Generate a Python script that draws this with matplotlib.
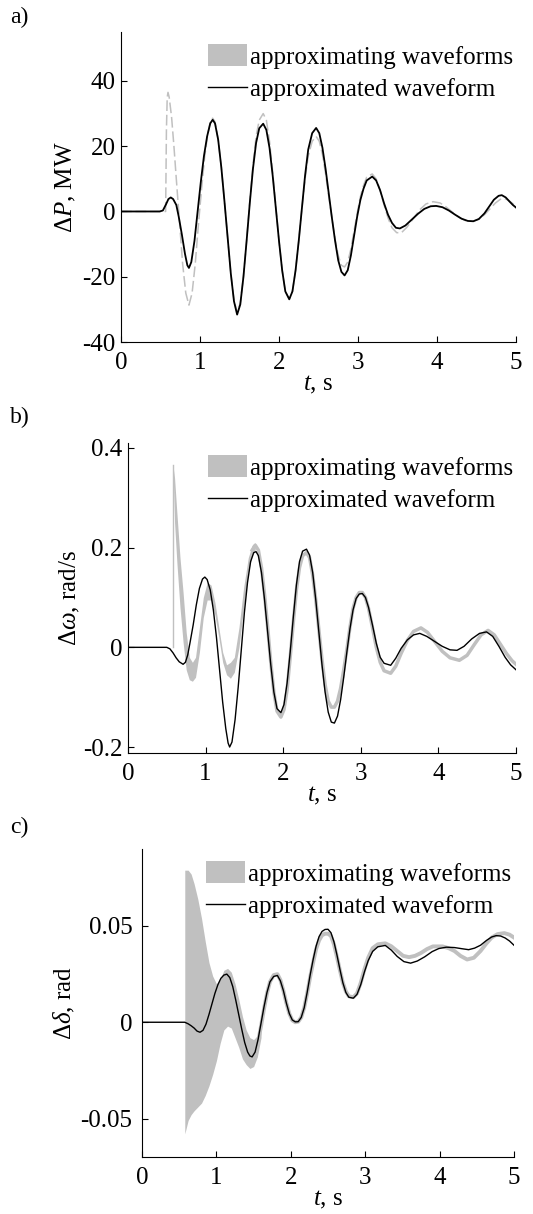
import matplotlib
matplotlib.use("Agg")
import matplotlib.pyplot as plt
from matplotlib.patches import Patch
from matplotlib.lines import Line2D

# ---- panel a) dP, MW  (values read off the picture)
a_t = [0, 0.49, 0.53, 0.57, 0.60, 0.63, 0.66, 0.70, 0.73, 0.77, 0.81, 0.84, 0.86, 0.89, 0.93, 0.97,
       1.01, 1.05, 1.09, 1.13, 1.16, 1.19, 1.23, 1.27, 1.31, 1.35, 1.39, 1.43, 1.47, 1.51, 1.55, 1.59,
       1.63, 1.67, 1.71, 1.75, 1.80, 1.84, 1.88, 1.92, 1.96, 2.00, 2.04, 2.08, 2.13, 2.17, 2.21, 2.25,
       2.29, 2.33, 2.37, 2.42, 2.47, 2.51, 2.55, 2.59, 2.63, 2.67, 2.71, 2.75, 2.79, 2.83, 2.87, 2.91,
       2.95, 2.99, 3.03, 3.07, 3.11, 3.18, 3.23, 3.28, 3.33, 3.38, 3.43, 3.48, 3.53, 3.60, 3.68, 3.76,
       3.84, 3.92, 3.99, 4.07, 4.15, 4.23, 4.31, 4.39, 4.46, 4.53, 4.60, 4.66, 4.72, 4.78, 4.82, 4.87,
       4.92, 4.96, 5.0]
a_black = [0, 0, 0.3, 2.2, 3.8, 4.3, 3.8, 2.0, -1.5, -7, -13, -16.5, -17.3, -15.5, -9, 0,
           9, 17, 23, 27, 28.1, 27, 22, 13.5, 3, -8, -19, -27.5, -31.6, -28.5, -20, -9,
           2.5, 13, 21, 25.5, 26.9, 25, 19.5, 11, 1, -9, -18, -24.5, -26.9, -24.5, -18, -9,
           1, 11, 19, 24, 25.6, 24, 19.5, 13, 5.5, -2, -9, -15, -18.5, -19.6, -18, -13.5,
           -7.5, -1.5, 3.5, 7, 9.5, 10.7, 9.5, 6.5, 2.5, -1, -3.5, -5, -5.2, -4.3, -2.5, -0.7,
           0.8, 1.6, 1.7, 1.3, 0.3, -1.0, -2.2, -2.9, -3.0, -2.3, -0.6, 1.5, 3.6, 4.8, 5.0, 4.3,
           3.0, 2.0, 1.2]
a_gt = [0, 0.565, 0.575, 0.585, 0.595, 0.61, 0.64, 0.67, 0.70, 0.74, 0.78, 0.82, 0.86, 0.90, 0.94, 0.98,
        1.02, 1.06, 1.10, 1.13, 1.16, 1.19, 1.23, 1.27, 1.31, 1.35, 1.39, 1.43, 1.47, 1.51, 1.55, 1.59,
        1.63, 1.67, 1.71, 1.75, 1.80, 1.84, 1.88, 1.92, 1.96, 2.00, 2.04, 2.08, 2.13, 2.17, 2.21, 2.25,
        2.29, 2.33, 2.37, 2.42, 2.47, 2.51, 2.55, 2.59, 2.63, 2.67, 2.71, 2.75, 2.79, 2.83, 2.87, 2.91,
        2.95, 2.99, 3.03, 3.07, 3.11, 3.18, 3.23, 3.28, 3.33, 3.38, 3.43, 3.49, 3.55, 3.62, 3.70, 3.78,
        3.86, 3.95, 4.04, 4.12, 4.20, 4.28, 4.36, 4.45, 4.53, 4.60, 4.67, 4.74, 4.80, 4.85, 4.90, 4.95,
        5.0]
a_gray = [0, 0, 25, 35, 36.5, 35, 29, 20, 10, -3, -16, -25, -28.7, -25, -16, -4,
          7, 17, 24, 27.5, 28.6, 27.5, 22, 13.5, 3, -8, -19, -27, -31, -28, -20, -9,
          3, 14, 23, 28, 30, 28, 21.5, 12, 1.5, -9, -18, -24.5, -27, -24.5, -18, -9,
          1, 10, 17, 21.5, 23, 21.5, 17.5, 11.5, 4.5, -2, -8.5, -13.5, -16.5, -17, -15.5, -11.5,
          -6, -0.5, 4.5, 8, 10.5, 11.5, 10, 6.5, 2, -2, -5, -6.5, -6.5, -4.8, -2.2, 0.5,
          2.3, 3.0, 2.6, 1.3, -0.3, -1.8, -2.8, -3.0, -2.4, -1.0, 0.8, 2.6, 3.7, 4.0, 3.5, 2.6,
          1.5]

# ---- panel b) d omega, rad/s
b_t = [0, 0.50, 0.54, 0.58, 0.62, 0.66, 0.71, 0.74, 0.77, 0.80, 0.84, 0.88, 0.92, 0.96, 0.99, 1.02,
       1.06, 1.10, 1.14, 1.18, 1.22, 1.26, 1.29, 1.31, 1.34, 1.38, 1.42, 1.46, 1.50, 1.54, 1.58, 1.62,
       1.65, 1.68, 1.72, 1.76, 1.80, 1.84, 1.88, 1.92, 1.97, 2.01, 2.05, 2.09, 2.13, 2.17, 2.21, 2.25,
       2.30, 2.34, 2.38, 2.42, 2.46, 2.50, 2.54, 2.58, 2.62, 2.66, 2.70, 2.74, 2.78, 2.82, 2.86, 2.90,
       2.94, 2.98, 3.02, 3.06, 3.10, 3.15, 3.20, 3.25, 3.30, 3.385, 3.45, 3.52, 3.60, 3.68, 3.76, 3.85,
       3.95, 4.05, 4.15, 4.24, 4.33, 4.43, 4.53, 4.62, 4.70, 4.78, 4.86, 4.93, 5.0]
b_black = [0, 0, -0.003, -0.011, -0.021, -0.029, -0.034, -0.03, -0.015, 0.01, 0.045, 0.085, 0.118, 0.137, 0.141, 0.136,
           0.115, 0.075, 0.02, -0.045, -0.11, -0.163, -0.192, -0.2, -0.19, -0.145, -0.08, -0.005, 0.07, 0.13, 0.172, 0.19,
           0.192, 0.184, 0.15, 0.095, 0.03, -0.035, -0.09, -0.123, -0.131, -0.115, -0.072, -0.01, 0.06, 0.125, 0.172, 0.193,
           0.197, 0.185, 0.15, 0.095, 0.03, -0.035, -0.09, -0.13, -0.15, -0.152, -0.138, -0.105, -0.06, -0.01, 0.037, 0.075,
           0.098, 0.107, 0.108, 0.1, 0.08, 0.045, 0.008, -0.02, -0.032, -0.036, -0.022, -0.002, 0.015, 0.025, 0.028, 0.022,
           0.012, 0.002, -0.005, -0.006, 0.002, 0.017, 0.028, 0.031, 0.022, 0.002, -0.02, -0.035, -0.045]
b_gt = [1.60, 1.64, 1.68, 1.72, 1.76, 1.80, 1.84, 1.88, 1.92, 1.97, 2.01, 2.05, 2.09, 2.13, 2.17, 2.21,
        2.25, 2.30, 2.34, 2.38, 2.42, 2.46, 2.50, 2.54, 2.58, 2.62, 2.66, 2.70, 2.74, 2.78, 2.82, 2.86,
        2.90, 2.94, 2.98, 3.02, 3.06, 3.10, 3.15, 3.20, 3.25, 3.30, 3.385, 3.45, 3.52, 3.60, 3.68, 3.775,
        3.86, 3.95, 4.05, 4.15, 4.27, 4.37, 4.46, 4.55, 4.64, 4.72, 4.80, 4.88, 4.95, 5.0]
b_gray = [0.195, 0.205, 0.195, 0.16, 0.105, 0.04, -0.03, -0.09, -0.128, -0.14, -0.125, -0.085, -0.02, 0.05, 0.115, 0.16,
          0.184, 0.19, 0.18, 0.145, 0.095, 0.035, -0.025, -0.075, -0.108, -0.12, -0.12, -0.108, -0.082, -0.045, -0.005, 0.04,
          0.078, 0.1, 0.11, 0.11, 0.1, 0.078, 0.04, 0.0, -0.03, -0.047, -0.052, -0.038, -0.012, 0.014, 0.032, 0.039,
          0.03, 0.012, -0.008, -0.021, -0.026, -0.016, 0.005, 0.025, 0.034, 0.025, 0.006, -0.013, -0.027, -0.034]
b_bt = [0.58, 0.60, 0.63, 0.67, 0.71, 0.75, 0.79, 0.83, 0.87, 0.92, 0.97, 1.02, 1.07, 1.12, 1.17, 1.22,
        1.27, 1.32, 1.37, 1.43, 1.49, 1.55, 1.60, 1.64]
b_upper = [0.365, 0.34, 0.27, 0.18, 0.11, 0.03, -0.02, -0.03, -0.02, 0.04, 0.10, 0.13, 0.125, 0.09, 0.04, -0.01,
           -0.035, -0.03, -0.02, 0.04, 0.12, 0.18, 0.205, 0.21]
b_lower = [0.36, 0.25, 0.17, 0.08, 0.01, -0.045, -0.065, -0.068, -0.06, -0.01, 0.06, 0.095, 0.095, 0.065, 0.02, -0.03,
           -0.055, -0.062, -0.05, 0.0, 0.08, 0.15, 0.185, 0.195]

# ---- panel c) d delta, rad
c_t = [0, 0.575, 0.62, 0.66, 0.70, 0.74, 0.78, 0.82, 0.86, 0.90, 0.94, 0.98, 1.02, 1.06, 1.10, 1.14,
       1.18, 1.22, 1.26, 1.30, 1.34, 1.38, 1.42, 1.45, 1.48, 1.52, 1.56, 1.60, 1.64, 1.68, 1.72, 1.77,
       1.82, 1.86, 1.90, 1.94, 1.98, 2.02, 2.06, 2.10, 2.14, 2.18, 2.22, 2.26, 2.30, 2.34, 2.38, 2.42,
       2.46, 2.50, 2.54, 2.58, 2.62, 2.66, 2.70, 2.74, 2.78, 2.84, 2.89, 2.94, 2.99, 3.04, 3.10, 3.17,
       3.27, 3.35, 3.43, 3.52, 3.61, 3.70, 3.80, 3.90, 3.99, 4.09, 4.20, 4.30, 4.39, 4.47, 4.55, 4.63,
       4.70, 4.76, 4.82, 4.88, 4.94, 5.0]
c_black = [0, 0, -0.0008, -0.0018, -0.003, -0.0046, -0.0052, -0.0042, -0.001, 0.004, 0.0095, 0.015, 0.0195, 0.0228, 0.0245, 0.025,
           0.0232, 0.0185, 0.0115, 0.004, -0.0035, -0.0105, -0.0155, -0.0175, -0.018, -0.0155, -0.009, -0.0005, 0.008, 0.0155, 0.021, 0.0238,
           0.0243, 0.0215, 0.0165, 0.01, 0.0045, 0.0012, 0.0002, 0.0003, 0.0025, 0.0075, 0.0155, 0.0245, 0.0325, 0.0395, 0.0445, 0.0472,
           0.0482, 0.0483, 0.0465, 0.0418, 0.035, 0.0275, 0.0205, 0.0155, 0.013, 0.0125, 0.0145, 0.0195, 0.0262, 0.032, 0.0368, 0.0392,
           0.0399, 0.0375, 0.0342, 0.0315, 0.0307, 0.0318, 0.034, 0.0367, 0.0383, 0.039, 0.0388, 0.0382, 0.0377, 0.0385, 0.040, 0.0425,
           0.0443, 0.045, 0.0448, 0.0438, 0.0422, 0.040]
c_gt = [1.55, 1.60, 1.64, 1.68, 1.72, 1.77, 1.82, 1.86, 1.90, 1.94, 1.98, 2.02, 2.06, 2.10, 2.14, 2.18,
        2.22, 2.26, 2.30, 2.34, 2.38, 2.42, 2.46, 2.50, 2.54, 2.58, 2.62, 2.66, 2.70, 2.74, 2.78, 2.84,
        2.89, 2.94, 2.99, 3.04, 3.10, 3.17, 3.27, 3.35, 3.43, 3.51, 3.59, 3.67, 3.75, 3.83, 3.91, 4.04,
        4.12, 4.20, 4.28, 4.37, 4.46, 4.55, 4.63, 4.70, 4.78, 4.87, 4.94, 5.0]
c_gray = [-0.012, -0.002, 0.007, 0.015, 0.021, 0.0245, 0.025, 0.022, 0.0165, 0.01, 0.0045, 0.001, 0.0, 0.0003, 0.0025, 0.0075,
          0.015, 0.0235, 0.031, 0.038, 0.0425, 0.0452, 0.046, 0.046, 0.0448, 0.0405, 0.034, 0.027, 0.0205, 0.016, 0.0135, 0.013,
          0.015, 0.0205, 0.0275, 0.0335, 0.0385, 0.0405, 0.041, 0.0395, 0.037, 0.0345, 0.0338, 0.0345, 0.036, 0.038, 0.0394, 0.0394,
          0.0385, 0.037, 0.0345, 0.0326, 0.0335, 0.037, 0.041, 0.044, 0.0458, 0.0463, 0.0455, 0.044]
c_bt = [0.575, 0.62, 0.66, 0.70, 0.75, 0.80, 0.85, 0.90, 0.95, 1.00, 1.05, 1.10, 1.15, 1.20, 1.25, 1.30,
        1.35, 1.40, 1.45, 1.50, 1.55, 1.60]
c_upper = [0.079, 0.079, 0.077, 0.072, 0.064, 0.054, 0.042, 0.031, 0.024, 0.020, 0.022, 0.027, 0.028, 0.026, 0.02, 0.012,
           0.003, -0.004, -0.008, -0.009, -0.007, 0.002]
c_lower = [-0.058, -0.051, -0.048, -0.046, -0.044, -0.042, -0.038, -0.033, -0.027, -0.020, -0.011, -0.004, -0.002, -0.003, -0.008, -0.013,
           -0.019, -0.022, -0.024, -0.023, -0.018, -0.008]

plt.rcParams["font.family"] = ["Liberation Serif", "DejaVu Serif"]
plt.rcParams["mathtext.fontset"] = "custom"
plt.rcParams["mathtext.rm"] = "Liberation Serif"
plt.rcParams["mathtext.it"] = "Liberation Serif:italic"
plt.rcParams["font.size"] = 18
plt.rcParams["axes.unicode_minus"] = False

GRAY = "#c0c0c0"
W, H = 533.0, 1214.0

fig = plt.figure(figsize=(W / 100, H / 100), dpi=100)

def make_axes(l, r, top, bot):
    return fig.add_axes([l / W, 1 - bot / H, (r - l) / W, (bot - top) / H])

ax1 = make_axes(121, 516, 32, 342)
ax2 = make_axes(128, 516, 443, 753)
ax3 = make_axes(142, 514, 849, 1157)

# a)
ax1.plot(a_gt, a_gray, color=GRAY, lw=1.1, ls=(0, (7, 2.5)))
ax1.plot(a_t, a_black, color="black", lw=1.3)
ax1.set_ylim(-40, 55)
ax1.set_yticks([-40, -20, 0, 20, 40])
ax1.set_ylabel(r"$\Delta P$, MW")

# b)
ax2.plot([b_bt[0], b_bt[0]], [0, b_upper[0]], color=GRAY, lw=1)
ax2.fill_between(b_bt, b_lower, b_upper, color=GRAY, lw=0)
ax2.plot(b_gt, b_gray, color=GRAY, lw=2.5)
ax2.plot(b_t, b_black, color="black", lw=1)
ax2.set_ylim(-0.212, 0.41)
ax2.set_yticks([-0.2, 0, 0.2, 0.4])
ax2.set_yticklabels(["-0.2", "0", "0.2", "0.4"])
ax2.set_ylabel(r"$\Delta\omega$, rad/s")

# c)
ax3.fill_between(c_bt, c_lower, c_upper, color=GRAY, lw=0)
ax3.plot(c_gt, c_gray, color=GRAY, lw=2.8)
ax3.plot(c_t, c_black, color="black", lw=1)
ax3.set_ylim(-0.07, 0.09)
ax3.set_yticks([-0.05, 0, 0.05])
ax3.set_yticklabels(["-0.05", "0", "0.05"])
ax3.set_ylabel(r"$\Delta\delta$, rad")

handles = [Patch(facecolor=GRAY, edgecolor="none"), Line2D([], [], color="black", lw=1)]
labels = ["approximating waveforms", "approximated waveform"]

ylab_x = [-0.109, -0.118, -0.175]
ypads = [4, 4, 7]
anchors = [(1.0127, 0.984), (1.0129, 0.984), (1.0134, 0.984)]
for ax, yx, yp, anc in zip([ax1, ax2, ax3], ylab_x, ypads, anchors):
    ax.set_xlim(0, 5)
    ax.set_xticks([0, 1, 2, 3, 4, 5])
    ax.spines["top"].set_visible(False)
    ax.spines["right"].set_visible(False)
    ax.spines["left"].set_linewidth(0.8)
    ax.spines["bottom"].set_linewidth(0.8)
    ax.tick_params(direction="in", length=4, width=0.8, labelsize=18)
    ax.tick_params(axis="x", pad=7)
    ax.tick_params(axis="y", pad=yp)
    ax.set_xlabel(r"$t$, s", labelpad=0)
    ax.yaxis.set_label_coords(yx, 0.5)
    ax.legend(handles, labels, loc="upper right", bbox_to_anchor=anc, frameon=False,
              fontsize=18, handlelength=1.55, handleheight=0.95, handletextpad=0.15,
              labelspacing=0.33, borderpad=0.3, borderaxespad=0.0)

fig.text(10 / W, 1 - 17 / H, "a)", fontsize=17, va="center")
fig.text(10 / W, 1 - 417 / H, "b)", fontsize=17, va="center")
fig.text(10 / W, 1 - 827 / H, "c)", fontsize=17, va="center")

fig.savefig("out.png", dpi=100)
